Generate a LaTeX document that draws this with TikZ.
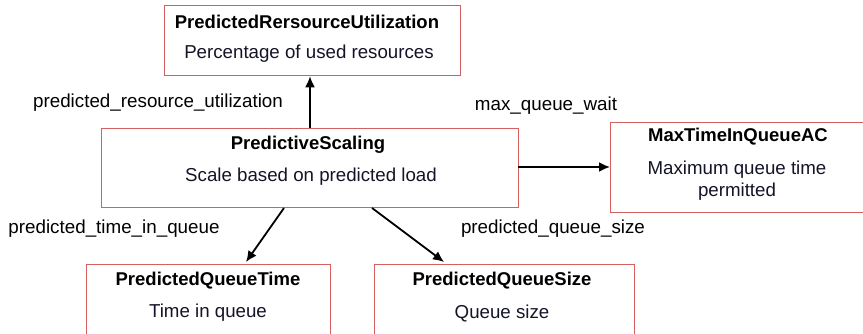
\documentclass[tikz,border=0pt]{standalone}
\usepackage{fontspec}
\setmainfont{Liberation Sans}
\usetikzlibrary{arrows.meta}
\definecolor{boxred}{RGB}{214,96,96}
\definecolor{subtxt}{RGB}{20,20,40}
\begin{document}
\begin{tikzpicture}[x=1pt,y=-1pt,
  box/.style={draw=boxred,line width=1.3pt,fill=white,inner sep=0pt,anchor=north west},
  ttl/.style={font=\fontsize{18.5}{21}\selectfont\bfseries,inner sep=0pt},
  sub/.style={font=\fontsize{18.7}{22}\selectfont,text=subtxt,inner sep=0pt,align=center},
  lbl/.style={font=\fontsize{18.8}{21}\selectfont,inner sep=0pt},
  arr/.style={line width=1.8pt,-{Latex[length=11pt,width=10pt]}}]
\useasboundingbox (0,0) rectangle (863,334);
\clip (0,0) rectangle (863,334);
% boxes
\node[box,minimum width=296pt,minimum height=70pt] (top) at (164,5) {};
\node[box,minimum width=417pt,minimum height=79pt] (mid) at (101,128) {};
\node[box,minimum width=260pt,minimum height=90pt] (right) at (610,122) {};
\node[box,minimum width=244pt,minimum height=80pt] (bl) at (86,264) {};
\node[box,minimum width=260pt,minimum height=80pt] (br) at (374,264) {};
% texts
\node[ttl] (topt) at (307,22) {PredictedRersourceUtilization};
\node[sub] (tops) at (309,54) {Percentage of used resources};
\node[ttl] (midt) at (308,145) {PredictiveScaling};
\node[sub] (mids) at (311,177) {Scale based on predicted load};
\node[ttl] (rightt) at (738,137) {MaxTimeInQueueAC};
\node[sub] (rights) at (737,181) {Maximum queue time\\permitted};
\node[ttl] (blt) at (208,281) {PredictedQueueTime};
\node[sub] (bls) at (208,313) {Time in queue};
\node[ttl] (brt) at (502,281) {PredictedQueueSize};
\node[sub] (brs) at (502,313) {Queue size};
% labels
\node[lbl] (l1) at (158,103) {predicted\_resource\_utilization};
\node[lbl] (l2) at (546,106) {max\_queue\_wait};
\node[lbl] (l3) at (114,229) {predicted\_time\_in\_queue};
\node[lbl] (l4) at (553,229) {predicted\_queue\_size};
% connectors
\coordinate (a1) at (310,128);
\coordinate (a2) at (518,167);
\coordinate (a3) at (284,208);
\coordinate (a4) at (372,208);
\draw[arr] (a1) -- (a1 |- top.south);
\draw[arr] (a2) -- (a2 -| right.west);
\draw[arr] (a3) -- (246,262);
\draw[arr] (a4) -- (444,262);
\end{tikzpicture}
\end{document}
